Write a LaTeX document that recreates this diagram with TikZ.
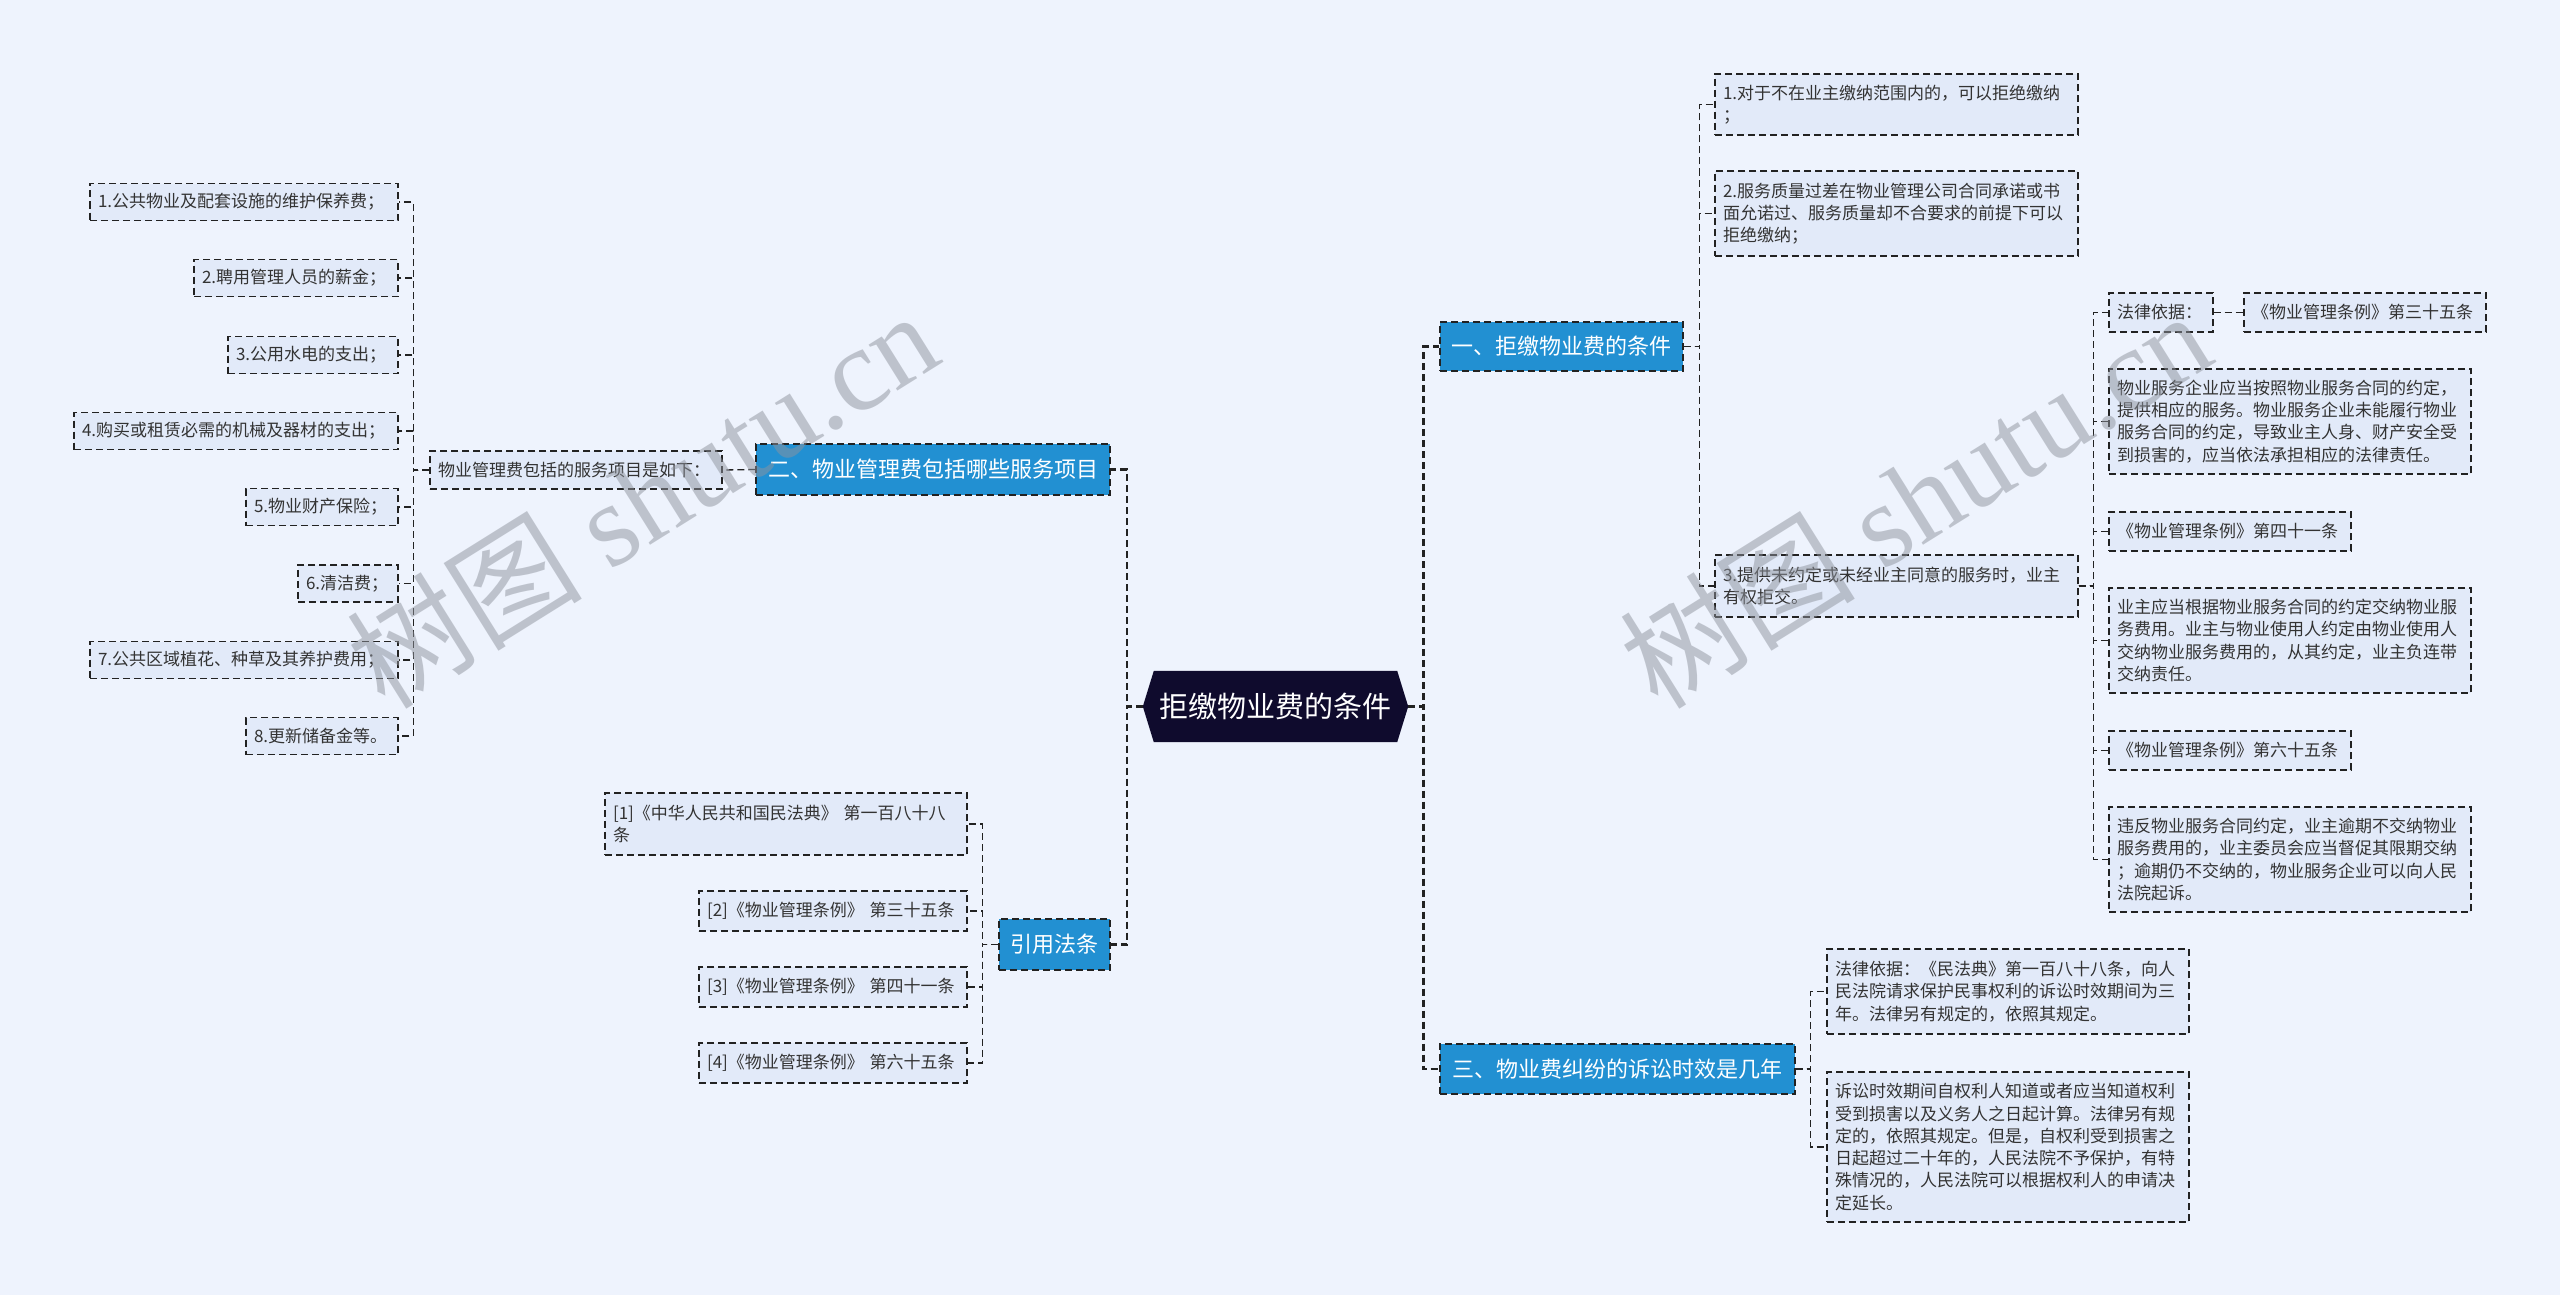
\documentclass[tikz,border=0pt]{standalone}
\usepackage{fontspec}
\newfontfamily\cjk{Noto Sans CJK SC}
\newfontfamily\wmserif{Liberation Serif}
\usetikzlibrary{backgrounds}
\definecolor{bgC}{HTML}{EEF3FD}
\definecolor{leafC}{HTML}{E2EAF9}
\definecolor{branchC}{HTML}{2290D2}
\definecolor{rootC}{HTML}{0F0B2D}
\definecolor{lineC}{HTML}{222222}
\definecolor{txtC}{HTML}{333333}
\definecolor{wmC}{HTML}{8E939D}
\tikzset{
  conn/.style={draw=lineC, line width=1.3pt, dash pattern=on 7pt off 4pt},
  mainconn/.style={draw=lineC, line width=2.6pt, dash pattern=on 7pt off 4pt},
  leaf/.style={draw=lineC, line width=1.3pt, dash pattern=on 7pt off 4pt, fill=leafC, text=txtC,
    font=\cjk\fontsize{17pt}{22.3pt}\selectfont, align=left, inner xsep=8pt, inner ysep=3pt},
  branch/.style={draw=lineC, line width=1.3pt, dash pattern=on 7pt off 4pt, fill=branchC, text=white,
    font=\cjk\fontsize{22pt}{26pt}\selectfont, inner sep=0pt, align=center},
  wm/.style={text=wmC, text opacity=0.5, rotate=32, inner sep=0pt}
}
\newcommand{\wmtext}{{\cjk\fontsize{118pt}{120pt}\selectfont 树图}\hspace{28pt}{\wmserif\fontsize{118pt}{120pt}\selectfont shutu.cn}}
\begin{document}
\begin{tikzpicture}[x=1pt,y=-1pt]
\useasboundingbox (0,0) rectangle (2560,1295);
% root
\node[minimum width=265pt, minimum height=71pt, inner sep=0pt, text=white,
  font=\cjk\fontsize{29pt}{33pt}\selectfont] (root) at (1275.5,706.5) {拒缴物业费的条件};
\begin{scope}[on background layer]
  \fill[bgC] (0,0) rectangle (2560,1295);
  \fill[rootC] (root.west) -- ([xshift=11pt]root.north west) -- ([xshift=-11pt]root.north east)
    -- (root.east) -- ([xshift=-11pt]root.south east) -- ([xshift=11pt]root.south west) -- cycle;
\end{scope}

% ---------- left: branch 二
\node[branch, minimum width=354pt, minimum height=51pt] (b2) at (933,469.5) {二、物业管理费包括哪些服务项目};
\node[leaf, text width=276pt, minimum height=38pt] (l2) at (576,470) {物业管理费包括的服务项目是如下：};
\node[leaf, text width=292pt, minimum height=37pt] (i1) at (244,202) {1.公共物业及配套设施的维护保养费；};
\node[leaf, text width=188pt, minimum height=37pt] (i2) at (296,278) {2.聘用管理人员的薪金；};
\node[leaf, text width=154pt, minimum height=37pt] (i3) at (313,355) {3.公用水电的支出；};
\node[leaf, text width=308pt, minimum height=37pt] (i4) at (236,431) {4.购买或租赁必需的机械及器材的支出；};
\node[leaf, text width=136pt, minimum height=37pt] (i5) at (322,507) {5.物业财产保险；};
\node[leaf, text width=84pt, minimum height=37pt] (i6) at (348,583.5) {6.清洁费；};
\node[leaf, text width=292pt, minimum height=37pt] (i7) at (244,660) {7.公共区域植花、种草及其养护费用；};
\node[leaf, text width=136pt, minimum height=37pt] (i8) at (322,736) {8.更新储备金等。};

% ---------- left: branch 引用法条
\node[branch, minimum width=111pt, minimum height=51pt] (b4) at (1054.5,944.5) {引用法条};
\node[leaf, text width=346pt, minimum height=62pt] (r1) at (786,824) {[1]《中华人民共和国民法典》 第一百八十八\\条};
\node[leaf, text width=252pt, minimum height=40pt] (r2) at (833,911) {[2]《物业管理条例》 第三十五条};
\node[leaf, text width=252pt, minimum height=40pt] (r3) at (833,987) {[3]《物业管理条例》 第四十一条};
\node[leaf, text width=252pt, minimum height=40pt] (r4) at (833,1063) {[4]《物业管理条例》 第六十五条};

% ---------- right: branch 一
\node[branch, minimum width=243pt, minimum height=49pt] (b1) at (1561.5,346.5) {一、拒缴物业费的条件};
\node[leaf, text width=347pt, minimum height=61pt] (c1) at (1896.5,104.5) {1.对于不在业主缴纳范围内的，可以拒绝缴纳\\；};
\node[leaf, text width=347pt, minimum height=85pt] (c2) at (1896.5,213.5) {2.服务质量过差在物业管理公司合同承诺或书\\面允诺过、服务质量却不合要求的前提下可以\\拒绝缴纳；};
\node[leaf, text width=347pt, minimum height=62pt] (c3) at (1896.5,586) {3.提供未约定或未经业主同意的服务时，业主\\有权拒交。};
\node[leaf, text width=88pt, minimum height=39pt] (d1) at (2161,312.5) {法律依据：};
\node[leaf, text width=226pt, minimum height=39pt] (d1b) at (2365,312.5) {《物业管理条例》第三十五条};
\node[leaf, text width=346pt, minimum height=105pt] (d2) at (2290,421.5) {物业服务企业应当按照物业服务合同的约定，\\提供相应的服务。物业服务企业未能履行物业\\服务合同的约定，导致业主人身、财产安全受\\到损害的，应当依法承担相应的法律责任。};
\node[leaf, text width=226pt, minimum height=39pt] (d3) at (2230,531.5) {《物业管理条例》第四十一条};
\node[leaf, text width=346pt, minimum height=105pt] (d4) at (2290,640.5) {业主应当根据物业服务合同的约定交纳物业服\\务费用。业主与物业使用人约定由物业使用人\\交纳物业服务费用的，从其约定，业主负连带\\交纳责任。};
\node[leaf, text width=226pt, minimum height=39pt] (d5) at (2230,750.5) {《物业管理条例》第六十五条};
\node[leaf, text width=346pt, minimum height=105pt] (d6) at (2290,859.5) {违反物业服务合同约定，业主逾期不交纳物业\\服务费用的，业主委员会应当督促其限期交纳\\；逾期仍不交纳的，物业服务企业可以向人民\\法院起诉。};

% ---------- right: branch 三
\node[branch, minimum width=355pt, minimum height=50pt] (b3) at (1617.5,1069) {三、物业费纠纷的诉讼时效是几年};
\node[leaf, text width=346pt, minimum height=85pt] (t1) at (2008,991.5) {法律依据：《民法典》第一百八十八条，向人\\民法院请求保护民事权利的诉讼时效期间为三\\年。法律另有规定的，依照其规定。};
\node[leaf, text width=346pt, minimum height=150pt] (t2) at (2008,1147) {诉讼时效期间自权利人知道或者应当知道权利\\受到损害以及义务人之日起计算。法律另有规\\定的，依照其规定。但是，自权利受到损害之\\日起超过二十年的，人民法院不予保护，有特\\殊情况的，人民法院可以根据权利人的申请决\\定延长。};

% ---------- connectors
\draw[mainconn] (root.west) -- ++(-16,0) |- (b2.east);
\draw[mainconn] (root.west) -- ++(-16,0) |- (b4.east);
\draw[mainconn] (root.east) -- ++(15,0) |- (b1.west);
\draw[mainconn] (root.east) -- ++(15,0) |- (b3.west);

\draw[conn] (b2.west) -- (l2.east);
\foreach \n in {i1,i2,i3,i4,i5,i6,i7,i8}
  \draw[conn] (l2.west) -- ++(-16,0) |- (\n.east);
\foreach \n in {r1,r2,r3,r4}
  \draw[conn] (b4.west) -- ++(-16,0) |- (\n.east);
\foreach \n in {c1,c2,c3}
  \draw[conn] (b1.east) -- ++(16,0) |- (\n.west);
\foreach \n in {d1,d2,d3,d4,d5,d6}
  \draw[conn] (c3.east) -- ++(15,0) |- (\n.west);
\draw[conn] (d1.east) -- (d1b.west);
\foreach \n in {t1,t2}
  \draw[conn] (b3.east) -- ++(15,0) |- (\n.west);

% ---------- watermarks
\node[wm] (wm1) at (642,498) {\wmtext};
\node[wm] (wm2) at (1915,498) {\wmtext};
\end{tikzpicture}
\end{document}
